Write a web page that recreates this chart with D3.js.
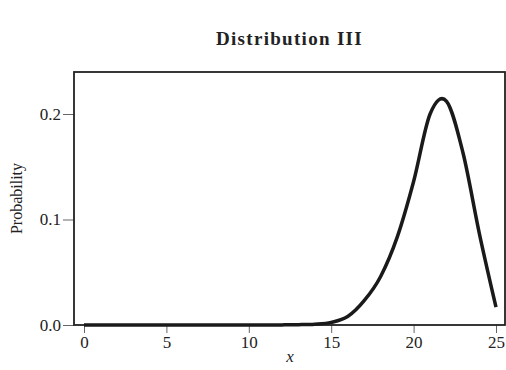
<!DOCTYPE html>
<html>
<head>
<meta charset="utf-8">
<script src="https://cdn.jsdelivr.net/npm/d3@7"></script>
<style>
  body { margin: 0; background: #fff; }
  text { font-family: 'Liberation Serif', 'DejaVu Serif', serif; fill: #222; }
</style>
</head>
<body>
<div id="chart"></div>
<script>
const xValues = [0, 1, 2, 3, 4, 5, 6, 7, 8, 9, 10, 11, 12, 13, 14, 15, 16, 17, 18, 19, 20, 21, 22, 23, 24, 25];
const probValues = [0, 0, 0, 0, 0, 0, 0, 0, 0, 0, 0, 0, 0.0001, 0.0003, 0.0008, 0.0025, 0.008, 0.023, 0.046, 0.083, 0.136, 0.200, 0.212, 0.163, 0.086, 0.017];
const xTicks = [0, 5, 10, 15, 20, 25];
const yTicks = [0.0, 0.1, 0.2];

const WIDTH = 506;
const HEIGHT = 370;
const BOX = { LEFT: 74, RIGHT: 505, TOP: 72, BOTTOM: 325 };

const data = xValues.map((x, i) => ({ x: x, p: probValues[i] }));

const xScale = d3.scaleLinear().domain([0, 25]).range([84, 496]);
const yScale = d3.scaleLinear().domain([0, 0.2]).range([325, 114]);

const svg = d3.select('#chart').append('svg').attr('width', WIDTH).attr('height', HEIGHT);

// title
svg.append('text')
  .attr('x', (BOX.LEFT + BOX.RIGHT) / 2)
  .attr('y', 45)
  .attr('text-anchor', 'middle')
  .attr('font-weight', 'bold')
  .attr('font-size', '19px')
  .attr('letter-spacing', '1.3px')
  .text('Distribution III');

// axes
const xAxis = d3.axisBottom(xScale).tickValues(xTicks).tickFormat(d3.format('d')).tickSizeInner(8).tickSizeOuter(0).tickPadding(3);
const yAxis = d3.axisLeft(yScale).tickValues(yTicks).tickFormat(d3.format('.1f')).tickSizeInner(11).tickSizeOuter(0).tickPadding(2);

const gx = svg.append('g').attr('transform', 'translate(0,' + BOX.BOTTOM + ')').call(xAxis);
const gy = svg.append('g').attr('transform', 'translate(' + BOX.LEFT + ',0)').call(yAxis);
[gx, gy].forEach((g) => {
  g.select('.domain').remove();
  g.selectAll('.tick line').attr('stroke', '#666').attr('stroke-width', 1);
  g.selectAll('.tick text').attr('font-size', '17px').attr('font-family', "'Liberation Serif', serif").attr('fill', '#333');
});

// box
svg.append('rect')
  .attr('x', BOX.LEFT)
  .attr('y', BOX.TOP)
  .attr('width', BOX.RIGHT - BOX.LEFT)
  .attr('height', BOX.BOTTOM - BOX.TOP)
  .attr('fill', 'none')
  .attr('stroke', '#222')
  .attr('stroke-width', 1.8);

// curve
svg.append('path')
  .datum(data)
  .attr('fill', 'none')
  .attr('stroke', '#1a1a1a')
  .attr('stroke-width', 3.5)
  .attr('stroke-linejoin', 'round')
  .attr('d', d3.line().x((d) => xScale(d.x)).y((d) => yScale(d.p)).curve(d3.curveCardinal.tension(0)));

// axis labels
svg.append('text')
  .attr('x', xScale(12.5))
  .attr('y', 362)
  .attr('text-anchor', 'middle')
  .attr('font-style', 'italic')
  .attr('font-size', '17px')
  .text('x');

svg.append('text')
  .attr('transform', 'translate(22,' + (BOX.TOP + BOX.BOTTOM) / 2 + ') rotate(-90)')
  .attr('text-anchor', 'middle')
  .attr('font-size', '16px')
  .text('Probability');
</script>
</body>
</html>
